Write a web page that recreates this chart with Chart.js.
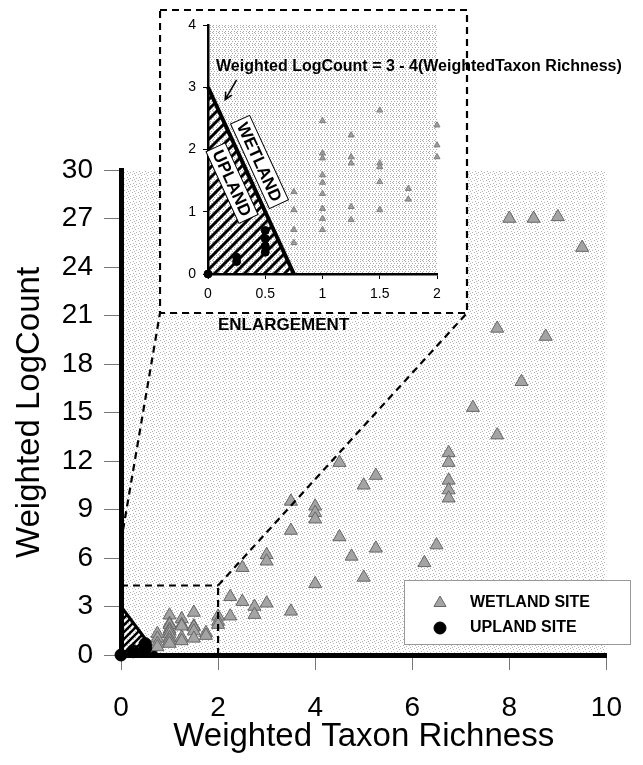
<!DOCTYPE html>
<html>
<head>
<meta charset="utf-8">
<script src="https://cdn.jsdelivr.net/npm/chart.js@4.4.1/dist/chart.umd.min.js"></script>
<style>
html, body { margin: 0; padding: 0; background: #fff; }
#wrap { position: relative; width: 643px; height: 765px; overflow: hidden; }
#mainChart { position: absolute; left: 0; top: 0; }
#insetChart { position: absolute; left: 159px; top: 9px; }
</style>
</head>
<body>
<div id="wrap">
    <canvas id="mainChart" width="643" height="765"></canvas>
    <canvas id="insetChart" width="484" height="330"></canvas>
</div>
<script>
// wetland sites: weighted taxon richness / weighted log count
var wetlandRichness = [
    0.75, 0.75, 0.75, 0.75,
    1, 1, 1, 1, 1, 1, 1, 1, 1,
    1.25, 1.25, 1.25, 1.25, 1.25,
    1.5, 1.5, 1.5, 1.5, 1.5,
    1.75, 1.75,
    2, 2, 2,
    2.25, 2.5, 2.75, 2.75, 3, 3.5, 2.25,
    2.5, 3, 3, 3.5, 3.5, 4, 4, 4, 4,
    4.5, 4.5, 4.75, 5, 5, 5.25, 5.25,
    6.25, 6.5, 6.75, 6.75, 6.75, 6.75, 6.75,
    7.25, 7.75, 7.75, 8.25, 8.75,
    8, 8.5, 9, 9.5
];
var wetlandLogCount = [
    1.32, 1.03, 0.71, 0.50,
    2.46, 1.94, 1.86, 1.59, 1.47, 1.29, 1.05, 0.89, 0.71,
    2.23, 1.88, 1.78, 1.08, 0.87,
    2.63, 1.78, 1.72, 1.48, 1.03,
    1.37, 1.20,
    2.39, 2.07, 1.88,
    3.6, 3.3, 3.0, 2.5, 3.2, 2.7, 2.4,
    5.4, 6.2, 5.8, 9.5, 7.7, 9.2, 8.8, 8.4, 4.4,
    11.9, 7.3, 6.1, 10.5, 4.8, 11.1, 6.6,
    5.7, 6.8, 12.5, 11.9, 10.8, 10.2, 9.7,
    15.3, 13.6, 20.2, 16.9, 19.7,
    27.0, 27.0, 27.1, 25.2
];
// upland sites
var uplandRichness = [0, 0.25, 0.25, 0.5, 0.5, 0.5, 0.5];
var uplandLogCount = [0, 0.2, 0.27, 0.7, 0.57, 0.45, 0.35];

// boundary: LogCount = 3 - 4 * Richness
var boundaryRichness = [0, 0.75];
var boundaryLogCount = [3, 0];

var mainXTicks = [0, 2, 4, 6, 8, 10];
var mainYTicks = [0, 3, 6, 9, 12, 15, 18, 21, 24, 27, 30];
var insetXTicks = [0, 0.5, 1, 1.5, 2];
var insetYTicks = [0, 1, 2, 3, 4];

// enlarged region corner and where the left connector meets the y axis
var enlargeCorner = [2, 4.3];
var connectorAxisLogCount = 7;

// labels inside the inset, in inset data units
var equationAt = [0.07, 3.33];
var arrowFrom = [0.25, 3.12];
var arrowTo = [0.15, 2.8];
var wetlandLabelAt = [0.45, 1.8];
var uplandLabelAt = [0.21, 1.46];

// inset box on the page
var insetBox = {left: 160, top: 10, right: 467, bottom: 313};
var insetOffset = {x: 159, y: 9};

const FONT = "'Liberation Sans', Arial, sans-serif";

function toPoints(xs, ys, maxX){
    let out = [];
    for(let i = 0; i < xs.length; i++){
        if(maxX === undefined || xs[i] <= maxX){
            out.push({x: xs[i], y: ys[i]});
        }
    }
    return out;
}

function makeStipple(ctx, dots, color){
    const c = document.createElement('canvas');
    c.width = 6; c.height = 6;
    const g = c.getContext('2d');
    g.fillStyle = '#fff';
    g.fillRect(0, 0, 6, 6);
    g.fillStyle = color;
    dots.forEach(p => g.fillRect(p[0], p[1], 1, 1));
    return ctx.createPattern(c, 'repeat');
}

function makeHatch(ctx, size, width){
    const c = document.createElement('canvas');
    c.width = size; c.height = size;
    const g = c.getContext('2d');
    g.strokeStyle = '#000';
    g.lineWidth = width;
    g.beginPath();
    for(let k = -1; k <= 1; k++){
        g.moveTo(k * size - 1, size + 1);
        g.lineTo(k * size + size + 1, -1);
    }
    g.stroke();
    return ctx.createPattern(c, 'repeat');
}

function fixedTicks(list){
    return function(scale){
        scale.ticks = list.map(v => ({value: v}));
    };
}

function drawMarker(ctx, style, radius, fill, stroke, x, y){
    ctx.save();
    ctx.fillStyle = fill;
    ctx.strokeStyle = stroke;
    ctx.lineWidth = 1;
    Chart.helpers.drawPoint(ctx, {pointStyle: style, radius: radius, rotation: 0, borderWidth: 1}, x, y);
    ctx.restore();
}

function dashedLine(ctx, x1, y1, x2, y2){
    ctx.beginPath();
    ctx.moveTo(x1, y1);
    ctx.lineTo(x2, y2);
    ctx.stroke();
}

//background, enlargement lines and legend of the main plot
var mainDecor = {
    id: 'mainDecor',
    beforeDraw(chart){
        const ctx = chart.ctx;
        const a = chart.chartArea;
        ctx.save();
        ctx.fillStyle = '#fff';
        ctx.fillRect(0, 0, chart.width, chart.height);
        ctx.fillStyle = makeStipple(ctx, [[0,0],[3,1],[1,3],[4,4],[2,5]], '#b4b4b4');
        ctx.fillRect(a.left, a.top, a.right - a.left, a.bottom - a.top);
        ctx.restore();
    },
    afterDatasetsDraw(chart){
        const ctx = chart.ctx;
        const xs = chart.scales.x, ys = chart.scales.y;
        const cx = xs.getPixelForValue(enlargeCorner[0]);
        const cy = ys.getPixelForValue(enlargeCorner[1]);
        ctx.save();
        ctx.strokeStyle = '#000';
        ctx.lineWidth = 2.2;
        ctx.setLineDash([7, 5]);
        dashedLine(ctx, xs.getPixelForValue(0), cy, cx, cy);
        dashedLine(ctx, cx, ys.getPixelForValue(0), cx, cy);
        dashedLine(ctx, cx, cy, insetBox.right, insetBox.bottom);
        dashedLine(ctx, xs.getPixelForValue(0), ys.getPixelForValue(connectorAxisLogCount), insetBox.left, insetBox.bottom);
        ctx.restore();
    },
    afterDraw(chart){
        const ctx = chart.ctx;
        ctx.save();
        ctx.fillStyle = '#fff';
        ctx.strokeStyle = '#999';
        ctx.lineWidth = 1;
        ctx.fillRect(404, 580, 226, 64);
        ctx.strokeRect(404.5, 580.5, 226, 64);
        drawMarker(ctx, 'triangle', 7, '#a4a4a4', '#666', 440, 603);
        drawMarker(ctx, 'circle', 6, '#000', '#000', 440, 628);
        ctx.fillStyle = '#000';
        ctx.font = 'bold 16px ' + FONT;
        ctx.textBaseline = 'middle';
        ctx.fillText('WETLAND SITE', 470, 603);
        ctx.fillText('UPLAND SITE', 470, 628);
        ctx.restore();
    }
};

function boxedLabel(ctx, text, x, y, angle){
    ctx.save();
    ctx.translate(x, y);
    ctx.rotate(angle);
    ctx.font = 'bold 17px ' + FONT;
    const w = ctx.measureText(text).width + 8;
    const h = 21;
    ctx.fillStyle = '#fff';
    ctx.fillRect(-w / 2, -h / 2, w, h);
    ctx.strokeStyle = '#000';
    ctx.lineWidth = 1;
    ctx.strokeRect(-w / 2, -h / 2, w, h);
    ctx.fillStyle = '#000';
    ctx.textAlign = 'center';
    ctx.textBaseline = 'middle';
    ctx.fillText(text, 0, 1);
    ctx.restore();
}

//white box, equation, arrow and zone labels of the inset
var insetDecor = {
    id: 'insetDecor',
    beforeDraw(chart){
        const ctx = chart.ctx;
        const a = chart.chartArea;
        const l = insetBox.left - insetOffset.x, t = insetBox.top - insetOffset.y;
        const w = insetBox.right - insetBox.left, h = insetBox.bottom - insetBox.top;
        ctx.save();
        ctx.fillStyle = '#fff';
        ctx.fillRect(l, t, w, h);
        ctx.fillStyle = makeStipple(ctx, [[0,0],[3,0],[1,2],[4,2],[0,4],[3,4],[5,5]], '#ababab');
        ctx.fillRect(a.left, a.top, a.right - a.left, a.bottom - a.top);
        ctx.strokeStyle = '#000';
        ctx.lineWidth = 2.2;
        ctx.setLineDash([7, 5]);
        ctx.strokeRect(l, t, w, h);
        ctx.restore();
    },
    afterDraw(chart){
        const ctx = chart.ctx;
        const xs = chart.scales.x, ys = chart.scales.y;
        const px = v => xs.getPixelForValue(v), py = v => ys.getPixelForValue(v);
        const angle = Math.atan2(py(boundaryLogCount[1]) - py(boundaryLogCount[0]), px(boundaryRichness[1]) - px(boundaryRichness[0]));

        boxedLabel(ctx, 'WETLAND', px(wetlandLabelAt[0]), py(wetlandLabelAt[1]), angle);
        boxedLabel(ctx, 'UPLAND', px(uplandLabelAt[0]), py(uplandLabelAt[1]), angle);

        ctx.save();
        ctx.fillStyle = '#000';
        ctx.font = 'bold 16px ' + FONT;
        ctx.textBaseline = 'middle';
        ctx.fillText('Weighted LogCount = 3 - 4(WeightedTaxon Richness)', px(equationAt[0]), py(equationAt[1]));
        ctx.font = 'bold 17px ' + FONT;
        ctx.fillText('ENLARGEMENT', 218 - insetOffset.x, 325 - insetOffset.y);

        // arrow
        const x1 = px(arrowFrom[0]), y1 = py(arrowFrom[1]);
        const x2 = px(arrowTo[0]), y2 = py(arrowTo[1]);
        const dir = Math.atan2(y2 - y1, x2 - x1);
        ctx.strokeStyle = '#000';
        ctx.lineWidth = 1.5;
        ctx.beginPath();
        ctx.moveTo(x1, y1);
        ctx.lineTo(x2, y2);
        ctx.moveTo(x2 - 8 * Math.cos(dir - 0.45), y2 - 8 * Math.sin(dir - 0.45));
        ctx.lineTo(x2, y2);
        ctx.lineTo(x2 - 8 * Math.cos(dir + 0.45), y2 - 8 * Math.sin(dir + 0.45));
        ctx.stroke();
        ctx.restore();
    }
};

var mainCtx = document.getElementById('mainChart').getContext('2d');
var mainChart = new Chart(mainCtx, {
    type: 'scatter',
    data: {
        datasets: [
            {
                label: 'UPLAND SITE',
                data: toPoints(uplandRichness, uplandLogCount),
                pointStyle: 'circle',
                pointRadius: 6,
                backgroundColor: '#000',
                borderColor: '#000',
                clip: false,
                order: 1
            },
            {
                label: 'WETLAND SITE',
                data: toPoints(wetlandRichness, wetlandLogCount),
                pointStyle: 'triangle',
                pointRadius: 7.5,
                backgroundColor: '#a4a4a4',
                borderColor: '#666',
                borderWidth: 1,
                clip: false,
                order: 2
            },
            {
                type: 'line',
                label: 'boundary',
                data: toPoints(boundaryRichness, boundaryLogCount),
                borderColor: '#000',
                borderWidth: 3,
                pointRadius: 0,
                fill: 'origin',
                backgroundColor: makeHatch(mainCtx, 7, 2.5),
                clip: false,
                order: 3
            }
        ]
    },
    options: {
        responsive: false,
        animation: false,
        events: [],
        layout: { padding: { top: 170, right: 17, left: 0, bottom: 0 } },
        plugins: { legend: { display: false }, tooltip: { enabled: false } },
        scales: {
            x: {
                type: 'linear',
                min: mainXTicks[0],
                max: mainXTicks[mainXTicks.length - 1],
                afterBuildTicks: fixedTicks(mainXTicks),
                afterFit: function(s){ s.height = 110; },
                border: { display: true, color: '#000', width: 5 },
                grid: { drawOnChartArea: false, drawTicks: true, tickLength: 15, color: '#777', lineWidth: 1 },
                ticks: { font: { family: FONT, size: 28 }, color: '#000', padding: 21, autoSkip: false, maxRotation: 0 },
                title: { display: true, text: 'Weighted Taxon Richness', color: '#000', font: { family: FONT, size: 33 }, padding: { top: 0, bottom: 8 } }
            },
            y: {
                type: 'linear',
                min: mainYTicks[0],
                max: mainYTicks[mainYTicks.length - 1],
                afterBuildTicks: fixedTicks(mainYTicks),
                afterFit: function(s){ s.width = 121; },
                border: { display: true, color: '#000', width: 5 },
                grid: { drawOnChartArea: false, drawTicks: true, tickLength: 17, color: '#777', lineWidth: 1 },
                ticks: { font: { family: FONT, size: 28 }, color: '#000', padding: 11, autoSkip: false },
                title: { display: true, text: 'Weighted LogCount', color: '#000', font: { family: FONT, size: 33 }, padding: { top: 10, bottom: 0 } }
            }
        }
    },
    plugins: [mainDecor]
});

var insetCtx = document.getElementById('insetChart').getContext('2d');
var insetMaxX = insetXTicks[insetXTicks.length - 1];
var insetChart = new Chart(insetCtx, {
    type: 'scatter',
    data: {
        datasets: [
            {
                label: 'UPLAND SITE',
                data: toPoints(uplandRichness, uplandLogCount, insetMaxX),
                pointStyle: 'circle',
                pointRadius: 4,
                backgroundColor: '#000',
                borderColor: '#000',
                clip: false,
                order: 1
            },
            {
                label: 'WETLAND SITE',
                data: toPoints(wetlandRichness, wetlandLogCount, insetMaxX),
                pointStyle: 'triangle',
                pointRadius: 3.5,
                backgroundColor: '#9c9c9c',
                borderColor: '#808080',
                borderWidth: 1,
                clip: false,
                order: 2
            },
            {
                type: 'line',
                label: 'boundary',
                data: toPoints(boundaryRichness, boundaryLogCount),
                borderColor: '#000',
                borderWidth: 4,
                pointRadius: 0,
                fill: 'origin',
                backgroundColor: makeHatch(insetCtx, 10, 3),
                clip: false,
                order: 3
            }
        ]
    },
    options: {
        responsive: false,
        animation: false,
        events: [],
        layout: { padding: { top: 16, right: 206, left: 0, bottom: 0 } },
        plugins: { legend: { display: false }, tooltip: { enabled: false } },
        scales: {
            x: {
                type: 'linear',
                min: insetXTicks[0],
                max: insetMaxX,
                afterBuildTicks: fixedTicks(insetXTicks),
                afterFit: function(s){ s.height = 65; },
                border: { display: true, color: '#000', width: 2.5 },
                grid: { drawOnChartArea: false, drawTicks: true, tickLength: 5, color: '#000', lineWidth: 1 },
                ticks: { font: { family: FONT, size: 14 }, color: '#000', padding: 7, autoSkip: false, maxRotation: 0,
                    callback: function(v){ return String(v); } }
            },
            y: {
                type: 'linear',
                min: insetYTicks[0],
                max: insetYTicks[insetYTicks.length - 1],
                afterBuildTicks: fixedTicks(insetYTicks),
                afterFit: function(s){ s.width = 49; },
                border: { display: true, color: '#000', width: 2.5 },
                grid: { drawOnChartArea: false, drawTicks: true, tickLength: 5, color: '#000', lineWidth: 1 },
                ticks: { font: { family: FONT, size: 14 }, color: '#000', padding: 7, autoSkip: false,
                    callback: function(v){ return String(v); } }
            }
        }
    },
    plugins: [insetDecor]
});
</script>
</body>
</html>
